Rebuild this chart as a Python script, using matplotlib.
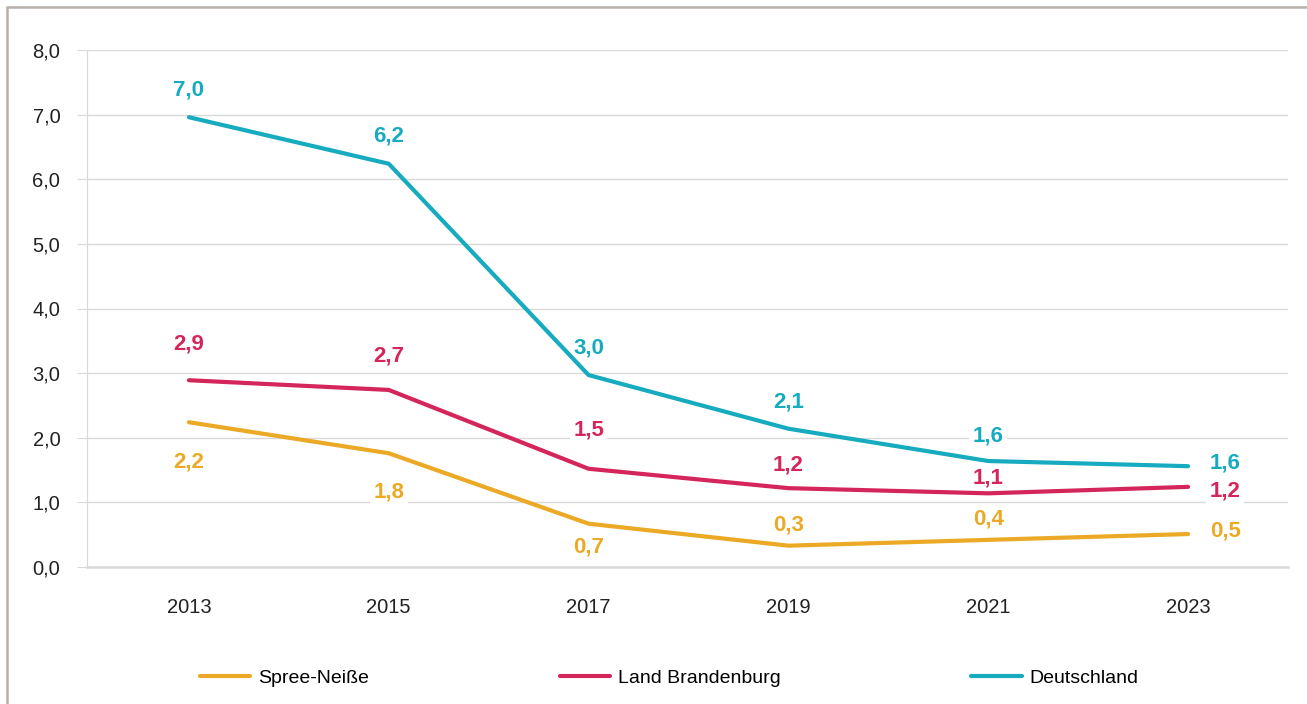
import matplotlib
matplotlib.use("Agg")
import matplotlib.pyplot as plt
from matplotlib.patches import Rectangle

plt.rcParams['font.family'] = ['Liberation Sans', 'DejaVu Sans']

# data
years = ['2013', '2015', '2017', '2019', '2021', '2023']
spree_neisse = [2.24, 1.76, 0.67, 0.33, 0.42, 0.51]
brandenburg = [2.89, 2.74, 1.52, 1.22, 1.14, 1.24]
deutschland = [6.96, 6.24, 2.97, 2.14, 1.64, 1.56]
series_names = ['Spree-Neiße', 'Land Brandenburg', 'Deutschland']

colors = ['#EBA926', '#D4265A', '#16ABBF']

# label offsets in pixels (dx, dy), one per point
offsets = [
    [(0, -40), (0, -39), (0, -23), (0, 21), (0, 21), (37, 3)],
    [(0, 36), (0, 34), (0, 39), (0, 23), (0, 15), (37, -4)],
    [(0, 27), (0, 28), (0, 27), (0, 27), (0, 25), (37, 3)],
]

fig = plt.figure(figsize=(13.07, 7.04), dpi=100)
ax = fig.add_axes([87 / 1307, 1 - 567 / 704, (1288 - 87) / 1307, (567 - 50) / 704])

x = list(range(len(years)))
all_series = [spree_neisse, brandenburg, deutschland]
lines = []
for vals, name, col in zip(all_series, series_names, colors):
    ln, = ax.plot(x, vals, color=col, lw=3, label=name, solid_capstyle='round', zorder=3)
    lines.append(ln)

for vals, col, offs in zip(all_series, colors, offsets):
    for xi, v, (dx, dy) in zip(x, vals, offs):
        ax.annotate(f'{v:.1f}'.replace('.', ','), (xi, v), xytext=(dx * 0.72, dy * 0.72),
                    textcoords='offset points', ha='center', va='center',
                    fontsize=16, fontweight='bold', color=col, zorder=2.5,
                    bbox=dict(boxstyle='square,pad=0.15', fc='white', ec='none'))

ax.set_xlim(-0.51, 5.5)
ax.set_ylim(0, 8)
ax.set_yticks(range(0, 9))
ax.set_yticklabels([f'{t:.1f}'.replace('.', ',') for t in range(0, 9)])
ax.set_xticks(x)
ax.set_xticklabels(years)
ax.grid(axis='y', color='#D9D9D9', lw=1, zorder=0)
ax.set_axisbelow(True)
for s in ['top', 'right']:
    ax.spines[s].set_visible(False)
ax.spines['left'].set_color('#D9D9D9')
ax.spines['bottom'].set_color('#D9D9D9')
ax.spines['bottom'].set_linewidth(1.8)
ax.tick_params(axis='y', length=7.2, color='#D9D9D9', labelsize=14.5, pad=12, labelcolor='#222222')
ax.tick_params(axis='x', length=0, labelsize=14.5, pad=22, labelcolor='#222222')

fig.legend(handles=lines, loc='center', bbox_to_anchor=(0.512, 1 - 678 / 704), ncol=3,
           frameon=False, fontsize=14, handlelength=2.6, handletextpad=0.4,
           columnspacing=9.8)

# outer frame
fig.patches.append(Rectangle((7 / 1307, -0.05), 1.1, 1 - 7 / 704 + 0.05, transform=fig.transFigure,
                             fill=False, ec='#B8AEAB', lw=1.8))

fig.savefig('out.png', dpi=100)
